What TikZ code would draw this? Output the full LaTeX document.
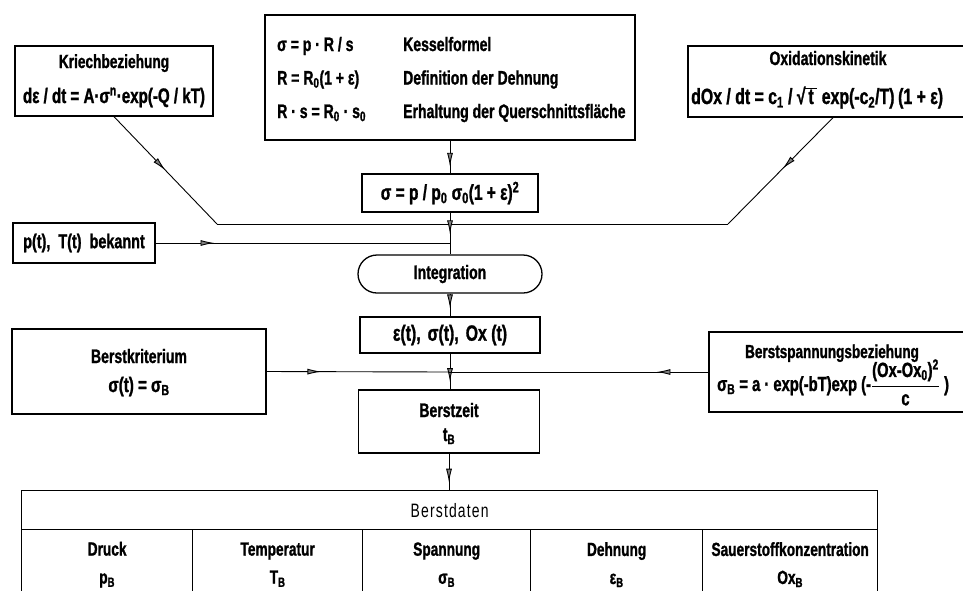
\documentclass[tikz,border=0pt]{standalone}
\usepackage{fontspec}
\setmainfont{Liberation Sans}[FakeStretch=0.72, BoldFeatures={FakeBold=1.2}]
\usetikzlibrary{arrows.meta,decorations.markings}
\newcommand{\sbs}[1]{\textsubscript{#1}}
\newcommand{\sps}[1]{\textsuperscript{#1}}
\newcommand{\fsz}[1]{\fontsize{#1}{#1}\selectfont}
\newcommand{\rtt}[1]{√\kern-0.8pt\vbox{\hrule height 0.9pt\kern 1.2pt\hbox{\,#1\,}}}
\begin{document}
\begin{tikzpicture}[x=1pt,y=-1pt,
  box/.style={draw, line width=1.3pt, inner sep=0pt, align=center, font=\bfseries\fsz{19.5}},
  txt/.style={inner sep=0pt, font=\bfseries\fsz{19.5}},
  frm/.style={inner sep=0pt, font=\bfseries\fsz{21}},
  cell/.style={box, minimum height=70pt, anchor=north west, font=\bfseries\fontsize{19}{28}\selectfont},
  conn/.style={line width=0.9pt},
  arrat/.style={postaction={decorate}, decoration={markings, mark=at position #1 with {\arrow{Latex[length=14pt,width=6pt,fill=black!50,line width=0.9pt]}}}},
]
\fill[white] (0,0) rectangle (963,590);
\useasboundingbox (0,0) rectangle (963,590);

% top row
\node[box, minimum width=198pt, minimum height=70pt] (kriech) at (114,81) {};
\node[txt, anchor=base, font=\bfseries\fsz{19}] (kriecht) at (114,68) {Kriechbeziehung};
\node[frm, anchor=base] (kriechf) at (114,103) {dε / dt = A·σ\sps{n}·exp(-Q / kT)};

\node[box, minimum width=370pt, minimum height=125pt] (topbox) at (450,77.5) {};
\node[txt, anchor=base west, font=\bfseries\fontsize{19.5}{33.5}\selectfont] (toptext) at (277,51)
  {\begin{tabular}[t]{@{}p{126pt}@{}l@{}}
   σ = p · R / s & Kesselformel\\
   R = R\sbs{0}(1 + ε) & Definition der Dehnung\\
   R · s = R\sbs{0} · s\sbs{0} & Erhaltung der Querschnittsfläche
   \end{tabular}};

\node[box, minimum width=290pt, minimum height=71pt] (oxid) at (833,81.5) {};
\node[txt, anchor=base] (oxidt) at (828,65) {Oxidationskinetik};
\node[frm, anchor=base west, font=\bfseries\fsz{22}] (oxidf) at (691,104) {dOx / dt = c\sbs{1} / \rtt{t} exp(-c\sbs{2}/T)\,(1 + ε)};

% middle
\node[box, minimum width=176pt, minimum height=38pt, font=\bfseries\fsz{21.5}] (sig) at (450,193) {σ = p / p\sbs{0} σ\sbs{0}(1 + ε)\sps{2}};
\node[box, minimum width=142pt, minimum height=40pt, font=\bfseries\fsz{20}] (pbox) at (84,243) {p(t),~ T(t)~ bekannt};
\node[box, minimum width=184pt, minimum height=38pt, rounded corners=19pt] (integ) at (450,274) {Integration};
\node[box, minimum width=180pt, minimum height=36pt, font=\bfseries\fsz{22}] (eps) at (450,335) {ε(t),\hspace{7pt}σ(t),\hspace{7pt}Ox~(t)};

\node[box, minimum width=254pt, minimum height=85pt] (bkrit) at (139,371.5) {};
\node[txt, anchor=base] (bkritt) at (139,363) {Berstkriterium};
\node[frm, anchor=base] (bkritf) at (139,392) {σ(t) = σ\sbs{B}};

\node[box, minimum width=270pt, minimum height=80pt] (bsp) at (844,372) {};
\node[txt, anchor=base, font=\bfseries\fsz{18.8}] (bspt) at (832,358) {Berstspannungsbeziehung};
\node[frm, anchor=base west, font=\bfseries\fsz{20.5}] (bspf) at (717,391) {σ\sbs{B} = a · exp(-bT)exp (-${\displaystyle\frac{\mbox{(Ox-Ox\sbs{0})\sps{2}}}{\mbox{c}}}$ )};

\node[box, minimum width=181pt, minimum height=63pt] (bz) at (449,421.5) {};
\node[txt, anchor=base] (bzt) at (449,417) {Berstzeit};
\node[txt, anchor=base] (bzf) at (449,441) {t\sbs{B}};

% table
\node[box, minimum width=856pt, minimum height=39pt, anchor=north west, font=\mdseries\fsz{19.4}\addfontfeatures{LetterSpace=6}] (hdr) at (21,490) {Berstdaten};
\node[cell, minimum width=171pt] (c1) at (21,529) {Druck\\p\sbs{B}};
\node[cell, minimum width=170pt] (c2) at (192,529) {Temperatur\\T\sbs{B}};
\node[cell, minimum width=168pt] (c3) at (362,529) {Spannung\\σ\sbs{B}};
\node[cell, minimum width=172pt] (c4) at (530,529) {Dehnung\\ε\sbs{B}};
\node[cell, minimum width=175pt] (c5) at (702,529) {Sauerstoffkonzentration\\Ox\sbs{B}};

% connectors
\coordinate (cl) at (217,224);
\coordinate (cr) at (728,224);
\coordinate (pj) at (450,243);
\coordinate (bj) at (449,372);
\draw[conn, arrat=0.5] (kriech.south) -- (cl);
\draw[conn] (cl) -- (cr);
\draw[conn, arrat=0.48] (oxid.south) -- (cr);
\draw[conn, arrat=0.8] (topbox.south) -- (sig.north);
\draw[conn, arrat=0.52] (sig.south) -- (integ.north);
\draw[conn, arrat=0.2] (pbox.east) -- (pj);
\draw[conn, arrat=0.65] (integ.south) -- (eps.north);
\draw[conn, arrat=0.8] (eps.south) -- (eps.south |- bz.north);
\draw[conn, arrat=0.3] (bkrit.east) -- (bj);
\draw[conn, arrat=0.2] (bsp.west) -- (bj);
\draw[conn, arrat=0.8] (bz.south) -- (bz.south |- hdr.north);
\end{tikzpicture}
\end{document}
